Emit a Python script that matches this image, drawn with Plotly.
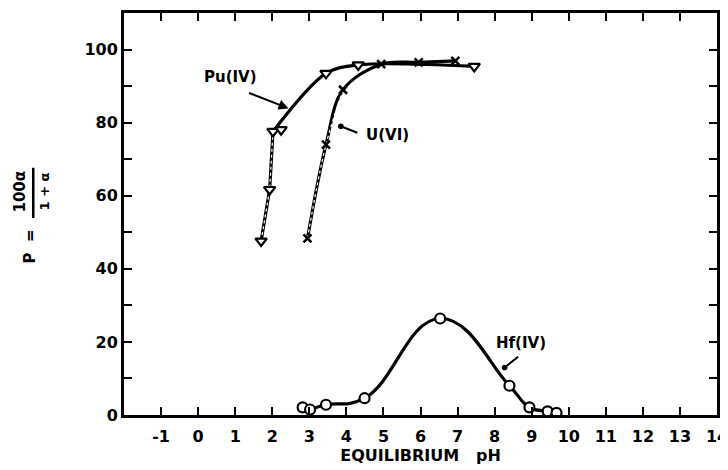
import plotly.graph_objects as go

# Data
pu_x = [1.70, 1.93, 2.02, 2.24, 3.45, 4.32, 7.45]
pu_y = [47.6, 61.7, 77.6, 78.1, 93.5, 95.8, 95.4]

u_x = [2.95, 3.45, 3.91, 4.94, 5.95, 6.94]
u_y = [48.3, 74.0, 89.0, 96.0, 96.5, 96.9]

hf_x = [2.82, 3.02, 3.45, 4.49, 6.53, 8.40, 8.94, 9.43, 9.67]
hf_y = [2.1, 1.5, 2.8, 4.6, 26.4, 8.0, 2.1, 1.0, 0.6]

x_ticks = list(range(-1, 15))
y_ticks = list(range(0, 110, 10))
y_labels = [str(v) if v % 20 == 0 else "" for v in y_ticks]

FONT = "DejaVu Sans"
BLACK = "black"

fig = go.Figure()

def curve(x, y, smoothing=1.0, shape="spline"):
    fig.add_trace(go.Scatter(x=x, y=y, mode="lines",
                             line=dict(color=BLACK, width=3.2, shape=shape, smoothing=smoothing),
                             hoverinfo="skip", showlegend=False))

def dotted(x, y, shape="spline"):
    fig.add_trace(go.Scatter(x=x, y=y, mode="lines",
                             line=dict(color="white", width=1.2, dash="dot", shape=shape),
                             hoverinfo="skip", showlegend=False))

# Pu(IV): steep lower part, smooth upper part
curve(pu_x[:3], pu_y[:3], shape="linear")
dotted(pu_x[:3], pu_y[:3], shape="linear")
pu_up_idx = [2, 4, 5, 6]
curve([pu_x[i] for i in pu_up_idx], [pu_y[i] for i in pu_up_idx], smoothing=0.9)
# U(VI)
curve(u_x, u_y)
dotted(u_x[:3], u_y[:3])
# Hf(IV)
curve(hf_x[1:], hf_y[1:], smoothing=1.3)

fig.add_trace(go.Scatter(x=pu_x, y=pu_y, mode="markers",
                         marker=dict(symbol="triangle-down", size=10, color="white",
                                     line=dict(color=BLACK, width=2.2)),
                         showlegend=False, hoverinfo="skip"))
fig.add_trace(go.Scatter(x=u_x, y=u_y, mode="markers",
                         marker=dict(symbol="x-thin", size=8, color=BLACK,
                                     line=dict(color=BLACK, width=2.5)),
                         showlegend=False, hoverinfo="skip"))
fig.add_trace(go.Scatter(x=hf_x, y=hf_y, mode="markers",
                         marker=dict(symbol="circle", size=10, color="white",
                                     line=dict(color=BLACK, width=2.2)),
                         showlegend=False, hoverinfo="skip"))

lab_font = dict(family=FONT, size=15, color=BLACK)

# Curve labels (text) and leader arrows
fig.add_annotation(x=0.88, y=92.6, text="<b>Pu(IV)</b>", font=lab_font, showarrow=False)
fig.add_annotation(x=2.44, y=83.9, ax=-41, ay=-16, text="", showarrow=True,
                   arrowhead=2, arrowsize=1, arrowwidth=2, arrowcolor=BLACK)
fig.add_annotation(x=5.12, y=76.5, text="<b>U(VI)</b>", font=lab_font, showarrow=False)
fig.add_annotation(x=3.85, y=79.0, ax=18, ay=7, text="", showarrow=True,
                   arrowhead=6, arrowsize=0.7, arrowwidth=2, arrowcolor=BLACK)
fig.add_annotation(x=8.72, y=19.8, text="<b>Hf(IV)</b>", font=lab_font, showarrow=False)
fig.add_annotation(x=8.27, y=13.0, ax=15, ay=-12, text="", showarrow=True,
                   arrowhead=6, arrowsize=0.7, arrowwidth=2, arrowcolor=BLACK)

# Y-axis title: P = 100α / (1 + α), rotated
dx = 0.019
fig.add_annotation(xref="paper", yref="paper", x=-0.177 + dx, y=0.42, text="<b>P  =</b>",
                   textangle=-90, showarrow=False, font=lab_font, xanchor="center", yanchor="middle")
fig.add_annotation(xref="paper", yref="paper", x=-0.195 + dx, y=0.555, text="<b>100α</b>",
                   textangle=-90, showarrow=False, font=lab_font, xanchor="center", yanchor="middle")
fig.add_annotation(xref="paper", yref="paper", x=-0.153 + dx, y=0.555, text="<b>1 + α</b>",
                   textangle=-90, showarrow=False, font=dict(family=FONT, size=13, color=BLACK),
                   xanchor="center", yanchor="middle")
fig.add_shape(type="line", xref="paper", yref="paper", x0=-0.172 + dx, x1=-0.172 + dx,
              y0=0.49, y1=0.615, line=dict(color=BLACK, width=2.5))

axis_common = dict(showgrid=False, zeroline=False, showline=True, linecolor=BLACK, linewidth=3,
                   mirror="ticks", ticks="inside", ticklen=8, tickwidth=2, tickcolor=BLACK,
                   tickfont=dict(family=FONT, size=16, color=BLACK))

fig.update_xaxes(range=[-2, 14], tickmode="array", tickvals=x_ticks,
                 ticktext=[f"<b>{v}</b>" for v in x_ticks], ticklabelstandoff=5,
                 title=dict(text="<b>EQUILIBRIUM   pH</b>",
                            font=dict(family=FONT, size=16, color=BLACK), standoff=3),
                 **axis_common)
fig.update_yaxes(range=[0, 110], tickmode="array", tickvals=y_ticks,
                 ticktext=[f"<b>{t}</b>" if t else "" for t in y_labels],
                 **axis_common)

# page body has an 8px margin, so margins are compensated to place the frame as in the reference
fig.update_layout(width=728, height=470, plot_bgcolor="white", paper_bgcolor="white",
                  margin=dict(l=116, r=19, t=2, b=63), showlegend=False)

fig.write_html("out.html")
